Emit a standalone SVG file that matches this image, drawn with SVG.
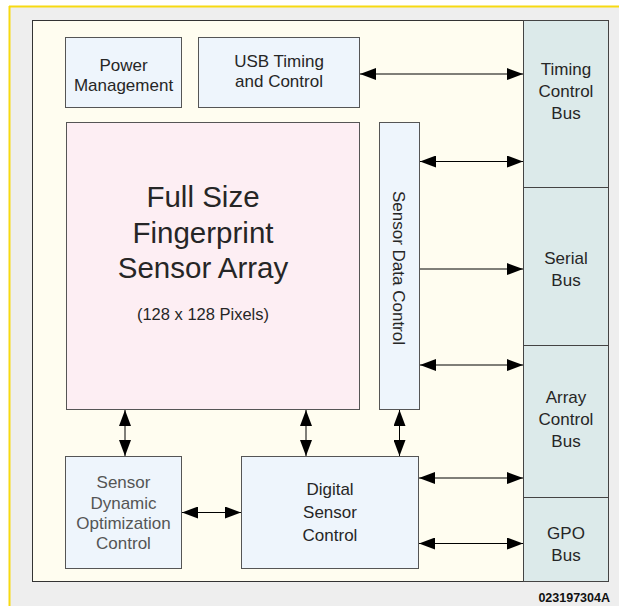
<svg xmlns="http://www.w3.org/2000/svg" width="619" height="606" viewBox="0 0 619 606">
<defs>
<marker id="ah" viewBox="0 0 16 12" refX="16" refY="6" markerWidth="16" markerHeight="12" markerUnits="userSpaceOnUse" orient="auto-start-reverse">
<path d="M0,0 L16,6 L0,12 z" fill="#000"/>
</marker>
<style>
.t{font-family:"Liberation Sans",Arial,Helvetica,sans-serif;font-size:17px;fill:#262626;text-anchor:middle}
.lt{fill:#555}
.box{fill:#eef5fc;stroke:#555;stroke-width:1}
.bus{fill:#dceaea;stroke:#444;stroke-width:1}
.c{stroke:#000;stroke-width:1;fill:none;marker-end:url(#ah)}
.b{marker-start:url(#ah)}
</style>
</defs>
<rect x="9" y="6" width="610" height="600" fill="#eeeeee"/>
<path d="M9,6.5 H619 M9.5,6 V606" stroke="#f7da12" stroke-width="2" fill="none"/>
<rect id="chip" x="32.5" y="20.5" width="576" height="561" fill="#fffdf0" stroke="#333" stroke-width="1"/>

<g id="timing-bus">
<rect class="bus" x="523.5" y="20.5" width="85" height="167"/>
<text class="t" x="566" y="75">Timing</text>
<text class="t" x="566" y="97">Control</text>
<text class="t" x="566" y="119">Bus</text>
</g>
<g id="serial-bus">
<rect class="bus" x="523.5" y="187.5" width="85" height="158"/>
<text class="t" x="566" y="264">Serial</text>
<text class="t" x="566" y="286">Bus</text>
</g>
<g id="array-bus">
<rect class="bus" x="523.5" y="345.5" width="85" height="152"/>
<text class="t" x="566" y="403">Array</text>
<text class="t" x="566" y="425">Control</text>
<text class="t" x="566" y="447">Bus</text>
</g>
<g id="gpo-bus">
<rect class="bus" x="523.5" y="497.5" width="85" height="84"/>
<text class="t" x="566" y="539">GPO</text>
<text class="t" x="566" y="561">Bus</text>
</g>

<g id="power">
<rect class="box" x="65.5" y="37.5" width="116" height="70"/>
<text class="t" x="123.5" y="71">Power</text>
<text class="t" x="123.5" y="91">Management</text>
</g>
<g id="usb">
<rect class="box" x="198.5" y="37.5" width="161" height="70"/>
<text class="t" x="279" y="67">USB Timing</text>
<text class="t" x="279" y="87">and Control</text>
</g>
<g id="array">
<rect x="66.5" y="122.5" width="293" height="287" fill="#fdeef3" stroke="#555" stroke-width="1"/>
<text class="t" x="203" y="207" style="font-size:29.5px">Full Size</text>
<text class="t" x="203" y="243" style="font-size:29.5px">Fingerprint</text>
<text class="t" x="203" y="278" style="font-size:29.5px">Sensor Array</text>
<text class="t" x="203" y="320" style="font-size:16.5px">(128 x 128 Pixels)</text>
</g>
<g id="sdc">
<rect class="box" x="379.5" y="122.5" width="40" height="287"/>
<text class="t" transform="translate(399,268) rotate(90)" x="0" y="6">Sensor Data Control</text>
</g>
<g id="dynamic">
<rect class="box" x="65.5" y="456.5" width="116" height="112"/>
<text class="t lt" x="123.5" y="488">Sensor</text>
<text class="t lt" x="123.5" y="509">Dynamic</text>
<text class="t lt" x="123.5" y="529">Optimization</text>
<text class="t lt" x="123.5" y="549">Control</text>
</g>
<g id="digital">
<rect class="box" x="241.5" y="456.5" width="177" height="112"/>
<text class="t" x="330" y="495">Digital</text>
<text class="t" x="330" y="518">Sensor</text>
<text class="t" x="330" y="541">Control</text>
</g>

<g id="connectors">
<line class="c b" x1="360" y1="74" x2="523" y2="74"/>
<line class="c b" x1="420" y1="161.5" x2="523" y2="161.5"/>
<line class="c" x1="420" y1="269" x2="523" y2="269"/>
<line class="c b" x1="420" y1="365" x2="523" y2="365"/>
<line class="c b" x1="419" y1="478" x2="523" y2="478"/>
<line class="c b" x1="419" y1="543.5" x2="523" y2="543.5"/>
<line class="c b" x1="182" y1="512.5" x2="241" y2="512.5"/>
<line class="c b" x1="125" y1="410" x2="125" y2="456"/>
<line class="c b" x1="306" y1="410" x2="306" y2="456"/>
<line class="c b" x1="399.5" y1="410" x2="399.5" y2="456"/>
</g>
<text x="610" y="601.5" style="font-family:'Liberation Sans',Arial,sans-serif;font-size:12.5px;font-weight:bold;fill:#111;text-anchor:end">023197304A</text>
</svg>
